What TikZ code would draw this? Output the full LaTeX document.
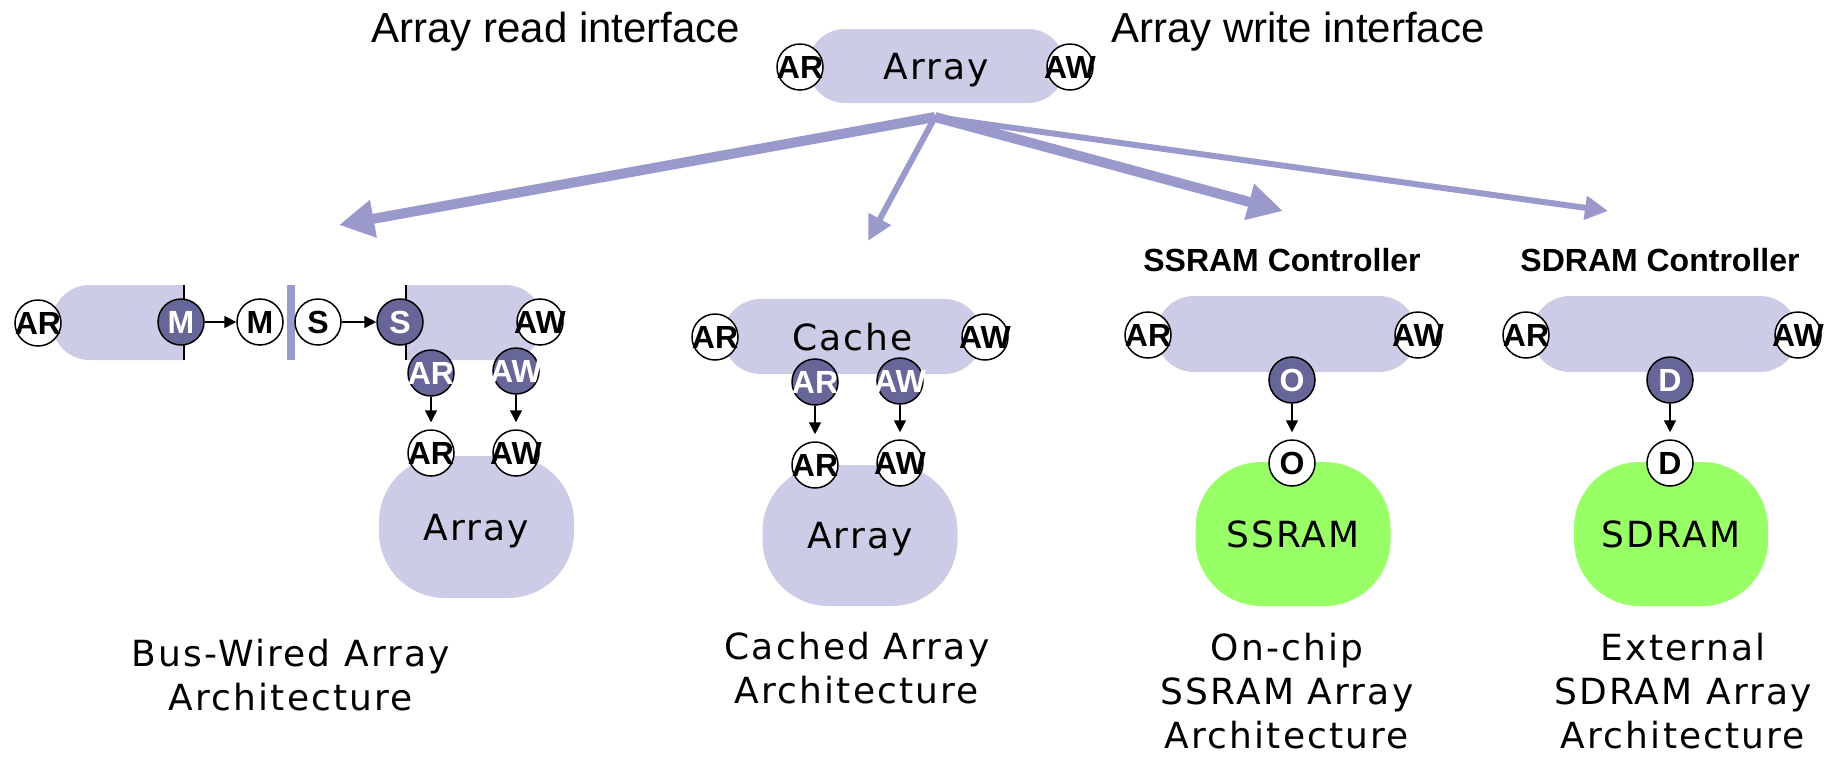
\documentclass[tikz,border=0pt]{standalone}
\usepackage{fontspec}
\setmainfont{Liberation Sans}
\newfontfamily\shapefont[LetterSpace=6]{DejaVu Sans}
\usetikzlibrary{shapes.misc,arrows.meta}

\definecolor{capfill}{RGB}{204,204,230}
\definecolor{portdark}{RGB}{102,102,153}
\definecolor{flowline}{RGB}{153,153,204}
\definecolor{memfill}{RGB}{153,255,102}

\tikzset{
  capsule/.style={rounded rectangle, fill=capfill, inner sep=0pt, minimum height=75pt},
  blobtext/.style={font=\shapefont\fontsize{36}{44}\selectfont, text depth=0pt},
  blob/.style={rectangle, rounded corners=66pt, inner sep=0pt, fill=capfill,
    minimum width=195pt, minimum height=142pt, blobtext},
  memblob/.style={blob, fill=memfill},
  port/.style={circle, draw=black, line width=1.5pt, fill=white, minimum size=46pt, inner sep=0pt},
  portlbl/.style={inner sep=0pt, font=\bfseries\fontsize{32}{32}\selectfont},
  pw/.style={port, label={[portlbl]center:#1}},
  pd/.style={port, fill=portdark, label={[portlbl, text=white]center:#1}},
  sig/.style={line width=1.5pt, -{Triangle[length=12pt,width=12pt]}},
  down/.style={sig, shorten >=7pt},
  fork/.style={draw=flowline, line width=#1},
  title/.style={font=\fontsize{42}{50}\selectfont, anchor=base, inner sep=0pt},
  ctrltitle/.style={font=\bfseries\fontsize{32}{36}\selectfont, anchor=base, inner sep=0pt},
  % captions are placed by the baseline of their last line
  caption/.style={font=\shapefont\fontsize{36}{44}\selectfont, align=center, anchor=base, inner sep=0pt},
}

\begin{document}
\begin{tikzpicture}[x=1pt,y=-1pt]
\useasboundingbox (0,0) rectangle (1834,756);

% ---- generic array with its read / write interfaces
\node[title] (rdtitle) at (556,42) {Array read interface};
\node[title] (wrtitle) at (1298,42) {Array write interface};
\node[capsule, minimum width=257pt, minimum height=74pt, blobtext] (toparr) at (936.5,66) {Array};
\node[pw=AR] (topAR) at (800,67) {};
\node[pw=AW] (topAW) at (1070,67) {};

% ---- refinement arrows
\coordinate (forkpt) at (935,117);
\coordinate (toBus) at (339,225);
\coordinate (toCache) at (868,241);
\coordinate (toSSRAM) at (1283,211);
\coordinate (toSDRAM) at (1608,211);
\draw[fork=10pt, -{Triangle[length=35pt,width=36pt]}] (forkpt) -- (toBus);
\draw[fork=6pt, -{Triangle[length=25pt,width=24pt]}] (forkpt) -- (toCache);
\draw[fork=10pt, -{Triangle[length=35pt,width=35pt]}] (forkpt) -- (toSSRAM);
\draw[fork=6pt, -{Triangle[length=23pt,width=23pt]}] (forkpt) -- (toSDRAM);

% ---- bus-wired array
\node[blob] (busarr) at (476.5,527) {Array};
\node[capsule, rounded rectangle right arc=none, minimum width=132pt] (busL) at (118,322.5) {};
\node[capsule, rounded rectangle left arc=none, minimum width=137pt] (busR) at (474.5,322.5) {};
\draw[line width=1.5pt] (busL.north east) -- (busL.south east);
\draw[line width=1.5pt] (busR.north west) -- (busR.south west);
\node[rectangle, fill=flowline, minimum width=8pt, minimum height=75pt, inner sep=0pt] (busbar) at (291,322.5) {};
\node[pw=AR] (busAR) at (38,323) {};
\node[pd=M] (busMd) at (181,322) {};
\node[pw=M] (busMw) at (260,322) {};
\node[pw=S] (busSw) at (318,322) {};
\node[pd=S] (busSd) at (400,322) {};
\node[pw=AW] (busAW) at (540,322) {};
\node[pd=AR] (busARd) at (431,373) {};
\node[pd=AW] (busAWd) at (516,371) {};
\node[pw=AR] (busARw) at (431,453) {};
\node[pw=AW] (busAWw) at (516,453) {};
\draw[sig] (busMd) -- (busMw);
\draw[sig] (busSw) -- (busSd);
\draw[down] (busARd) -- (busARw);
\draw[down] (busAWd) -- (busAWw);
\node[caption] (buscap) at (291,710) {Bus-Wired Array\\Architecture};

% ---- cached array
\node[blob, minimum height=141pt] (cacharr) at (860,535.5) {Array};
\node[capsule, minimum width=259pt, blobtext] (cache) at (852.5,336.5) {Cache};
\node[pw=AR] (cacAR) at (715,337) {};
\node[pw=AW] (cacAW) at (985,337) {};
\node[pd=AR] (cacARd) at (815,382) {};
\node[pd=AW] (cacAWd) at (900,381) {};
\node[pw=AR] (cacARw) at (815,465) {};
\node[pw=AW] (cacAWw) at (900,463) {};
\draw[down] (cacARd) -- (cacARw);
\draw[down] (cacAWd) -- (cacAWw);
\node[caption] (caccap) at (857,703) {Cached Array\\Architecture};

% ---- on-chip SSRAM
\node[ctrltitle] (ssctl) at (1282,271) {SSRAM Controller};
\node[memblob, minimum height=144pt] (ssram) at (1293,534) {SSRAM};
\node[capsule, minimum width=261pt, minimum height=76pt] (sscap) at (1286.5,334) {};
\node[pw=AR] (ssAR) at (1148,335) {};
\node[pw=AW] (ssAW) at (1418,335) {};
\node[pd=O] (ssOd) at (1292,380) {};
\node[pw=O] (ssOw) at (1292,463) {};
\draw[down] (ssOd) -- (ssOw);
\node[caption] (sscapt) at (1287,748) {On-chip\\SSRAM Array\\Architecture};

% ---- external SDRAM
\node[ctrltitle] (sdctl) at (1660,271) {SDRAM Controller};
\node[memblob, minimum height=144pt, minimum width=194pt] (sdram) at (1671,534) {SDRAM};
\node[capsule, minimum width=266pt, minimum height=76pt] (sdcap) at (1665,334) {};
\node[pw=AR] (sdAR) at (1526,335) {};
\node[pw=AW] (sdAW) at (1798,335) {};
\node[pd=D] (sdDd) at (1670,380) {};
\node[pw=D] (sdDw) at (1670,463) {};
\draw[down] (sdDd) -- (sdDw);
\node[caption] (sdcapt) at (1683,748) {External\\SDRAM Array\\Architecture};
\end{tikzpicture}
\end{document}
